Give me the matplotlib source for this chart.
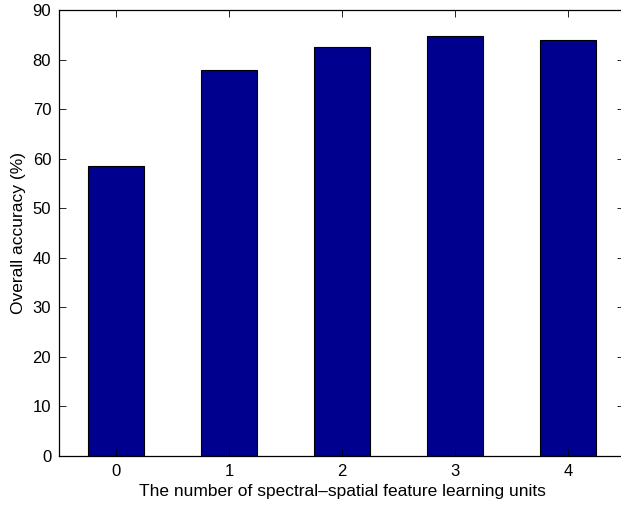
import matplotlib.pyplot as plt

units = [0, 1, 2, 3, 4]
accuracy = [58.6, 77.9, 82.5, 84.8, 84.0]
yticks = list(range(0, 100, 10))

plt.rcParams["font.family"] = ["Liberation Sans", "DejaVu Sans"]

fig = plt.figure(figsize=(6.21, 5.05), dpi=100)
ax = fig.add_axes([0.0958, 0.097, 0.9098, 0.8826])

ax.bar(units, accuracy, width=0.5, color="#00008F", edgecolor="black", linewidth=0.8)

ax.set_xlim(-0.5, 4.5)
ax.set_ylim(0, 90)
ax.set_xticks(units)
ax.set_yticks(yticks)
ax.tick_params(direction="in", length=5, width=0.6, labelsize=12,
               top=True, right=True, pad=6)
for s in ax.spines.values():
    s.set_linewidth(0.9)

ax.set_xlabel("The number of spectral\u2013spatial feature learning units", fontsize=12.5, labelpad=3)
ax.set_ylabel("Overall accuracy (%)", fontsize=12.5, labelpad=5)

fig.savefig("out.png", dpi=100)
